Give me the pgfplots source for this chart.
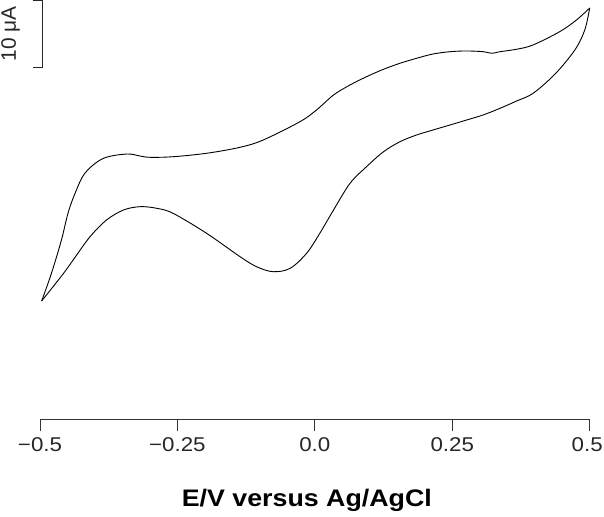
\documentclass[border=0pt]{standalone}
\usepackage{graphicx}
\usepackage{fontspec}
\setmainfont{Liberation Sans}
\usepackage{pgfplots}
\pgfplotsset{compat=1.18}
\newcommand{\hs}[1]{\scalebox{1.12}[1]{#1}}
\begin{document}
\begin{tikzpicture}
\begin{axis}[
  scale only axis,
  width=549.7bp, height=418.5bp,
  xmin=-0.5, xmax=0.5,
  ymin=-17.95, ymax=45.45,
  clip=false,
  axis y line=none,
  axis x line*=bottom,
  x axis line style={black!80, line width=1bp},
  xtick={-0.5,-0.25,0,0.25,0.5},
  xticklabels={\hs{−0.5},\hs{−0.25},\hs{0.0},\hs{0.25},\hs{0.5}\hspace*{5bp}},
  /pgf/number format/assume math mode=true,
  tick align=outside,
  major tick length=11.4bp,
  x tick style={black!80, line width=1bp},
  xticklabel style={font=\fontsize{20}{21}\selectfont, black!85, yshift=-3bp},
  xlabel={\hs{\bfseries E/V versus Ag/AgCl}},
  xlabel style={at={(axis description cs:0.5,0)}, anchor=base, yshift=-87bp, xshift=-8bp, font=\fontsize{24}{26}\selectfont},
]
% forward (lower) branch
\addplot[black, line width=0.9bp, smooth, tension=0.55] coordinates {
(-0.497,0.00) (-0.458,4.10) (-0.436,6.65) (-0.409,9.74)
(-0.379,12.27) (-0.348,13.79) (-0.318,14.29) (-0.288,14.05) (-0.258,13.29)
(-0.197,10.26) (-0.136,6.71) (-0.106,5.20) (-0.076,4.44) (-0.045,4.95)
(-0.015,7.23) (0.009,10.26) (0.034,13.79) (0.064,17.83) (0.094,20.35)
(0.125,22.62) (0.155,24.14) (0.185,25.15) (0.215,25.91) (0.246,26.67)
(0.276,27.42) (0.306,28.18) (0.337,29.20) (0.367,30.30) (0.397,31.47)
(0.437,34.39) (0.473,38.03) (0.491,41.06) (0.500,44.39)
};
% reverse (upper) branch
\addplot[black, line width=0.9bp, smooth, tension=0.55] coordinates {
(0.500,44.39) (0.476,42.58) (0.446,40.83) (0.397,38.79) (0.367,38.14)
(0.337,37.77) (0.322,37.53) (0.306,37.77) (0.276,37.88) (0.246,37.77)
(0.215,37.42) (0.185,36.77) (0.155,36.02) (0.125,35.11) (0.094,33.98)
(0.064,32.73) (0.034,31.21) (0.003,28.94) (-0.027,27.17) (-0.094,24.39)
(-0.136,23.29) (-0.197,22.38) (-0.258,21.86) (-0.300,21.77) (-0.318,21.97)
(-0.342,22.27) (-0.385,21.60) (-0.418,19.39) (-0.436,16.36) (-0.449,13.33)
(-0.461,9.24) (-0.479,4.24) (-0.497,0.00)
};
% scale bar: 10 uA
\draw[black!85, line width=1bp] (axis cs:-0.5128,45.45) -- (axis cs:-0.495,45.45) -- (axis cs:-0.495,35.45) -- (axis cs:-0.5128,35.45);
\node[rotate=90, anchor=base, font=\fontsize{21}{23}\selectfont, black!85] at (axis cs:-0.5437,40.45) {10 μA};
\end{axis}
\pgfresetboundingbox
\path[use as bounding box] (-40bp,-97.5bp) rectangle (564bp,419.5bp);
\end{tikzpicture}
\end{document}
